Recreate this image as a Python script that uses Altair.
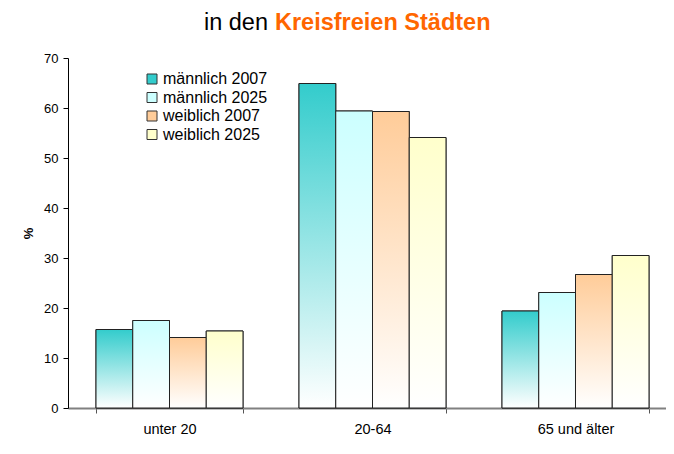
import altair as alt
import pandas as pd

# ---- data ----
CATEGORIES = ["unter 20", "20-64", "65 und älter"]
SERIES = ["männlich 2007", "männlich 2025", "weiblich 2007", "weiblich 2025"]
M2007 = [15.7, 64.9, 19.4]
M2025 = [17.5, 59.4, 23.1]
W2007 = [14.1, 59.3, 26.7]
W2025 = [15.4, 54.1, 30.5]
COLORS = ["#33CCCC", "#CCFFFF", "#FFCC99", "#FFFFCC"]
TITLE_PLAIN = ["in den"]
TITLE_BOLD = ["Kreisfreien Städten"]
Y_TICKS = [0, 10, 20, 30, 40, 50, 60, 70]

values = [M2007, M2025, W2007, W2025]
rows = []
for s, vals in zip(SERIES, values):
    for c, v in zip(CATEGORIES, vals):
        rows.append({"Kategorie": c, "Serie": s, "Wert": v})
df = pd.DataFrame(rows)

FONT = "Liberation Sans"

x_enc = alt.X(
    "Kategorie:N",
    sort=CATEGORIES,
    scale=alt.Scale(range=[0, 609], paddingInner=0.276, paddingOuter=0.138),
    axis=alt.Axis(
        title=None, labelAngle=0, labelFontSize=14.5, labelColor="#000000",
        labelFont=FONT, labelPadding=9, domainColor="#808080", domainWidth=2,
        tickBand="extent", tickColor="#555555", tickSize=5, tickWidth=1,
    ),
)
xo_enc = alt.XOffset("Serie:N", sort=SERIES, scale=alt.Scale(domain=SERIES, paddingInner=0, paddingOuter=0))
y_enc = alt.Y(
    "Wert:Q",
    scale=alt.Scale(domain=[0, 70], nice=False),
    axis=alt.Axis(
        title="%", titleFontSize=13, titleFont=FONT, titleFontWeight="bold",
        titleColor="#000000", titlePadding=8, values=Y_TICKS, grid=False,
        labelFontSize=13, labelFont=FONT, labelColor="#000000", labelPadding=5,
        domainColor="#000000", tickColor="#000000", tickSize=5,
    ),
)

base = alt.Chart(df)

legend_layer = base.mark_bar(stroke="#222222", strokeWidth=1).encode(
    x=x_enc, xOffset=xo_enc, y=y_enc,
    color=alt.Color(
        "Serie:N",
        scale=alt.Scale(domain=SERIES, range=COLORS),
        legend=alt.Legend(
            title=None, orient="none", legendX=76, legendY=13,
            labelFontSize=16, labelFont=FONT, labelColor="#000000",
            symbolType="square", symbolSize=100, symbolStrokeColor="#333333",
            symbolStrokeWidth=1, symbolOpacity=1, rowPadding=2.5, padding=0,
            labelOffset=3,
        ),
    ),
)

grad_layers = []
for s, col in zip(SERIES, COLORS):
    grad = alt.Gradient(
        gradient="linear",
        stops=[alt.GradientStop(color=col, offset=0), alt.GradientStop(color="#FFFFFF", offset=1)],
        x1=0, x2=0, y1=0, y2=1,
    )
    grad_layers.append(
        base.transform_filter(alt.datum.Serie == s)
        .mark_bar(fill=grad, stroke="#222222", strokeWidth=1)
        .encode(x=x_enc, xOffset=xo_enc, y=y_enc)
    )

title_plain = alt.Chart(pd.DataFrame({"t": TITLE_PLAIN})).mark_text(
    align="right", baseline="alphabetic", fontSize=23.5, font=FONT, color="#000000"
).encode(text="t:N", x=alt.value(200), y=alt.value(-28))

title_bold = alt.Chart(pd.DataFrame({"t": TITLE_BOLD})).mark_text(
    align="left", baseline="alphabetic", fontSize=23.5, font=FONT, fontWeight="bold",
    color="#FF6600"
).encode(text="t:N", x=alt.value(207), y=alt.value(-28))

chart = alt.layer(legend_layer, *grad_layers, title_plain, title_bold).properties(
    width=598, height=350,
    autosize=alt.AutoSizeParams(type="none"),
    padding={"left": 60, "top": 50, "right": 0, "bottom": 30},
).configure_view(strokeWidth=0)

chart.save("out.html", embed_options={"renderer": "svg", "actions": False})
